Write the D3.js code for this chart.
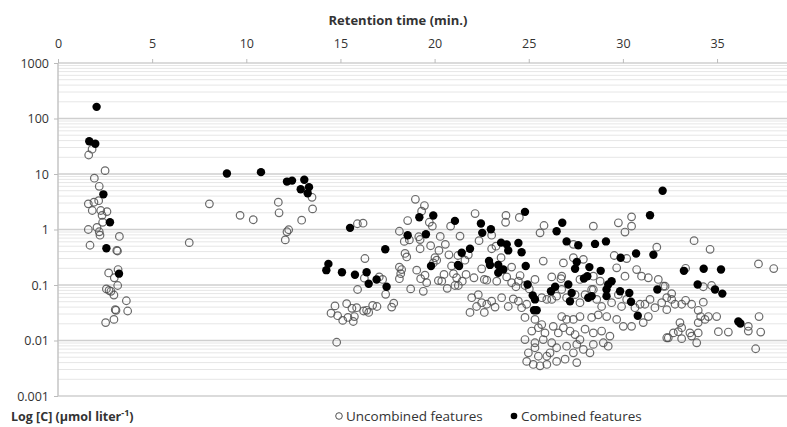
<!DOCTYPE html>
<html><head><meta charset="utf-8">
<script src="https://cdn.jsdelivr.net/npm/d3@7/dist/d3.min.js"></script>
<style>body{margin:0;background:#fff}svg{display:block}text{font-family:"Open Sans",Calibri,sans-serif;fill:#333}</style>
</head><body><svg id="c" width="787" height="427"></svg>
<script>
const xTicks = [0,5,10,15,20,25,30,35];
const yTicks = [0.001,0.01,0.1,1,10,100,1000];
const yTickLabels = ["0.001","0.01","0.1","1","10","100","1000"];
const seriesNames = ["Uncombined features","Combined features"];

const combined = [
[2.05,162],[1.66,39],[1.98,35],[2.41,4.3],[2.76,1.35],[2.57,0.46],[3.24,0.16],
[8.97,10.2],[10.78,10.8],[12.16,7.3],[12.43,7.6],[13.08,7.9],[12.89,5.3],[13.33,5.8],[13.26,4.5],
[15.51,1.07],[14.36,0.24],[14.25,0.185],[15.08,0.17],[15.77,0.153],[16.39,0.17],[16.5,0.105],[16.92,0.126],[17.45,0.093],[17.38,0.44],
[19.19,1.66],[19.93,1.79],[21.08,1.43],[18.57,0.79],[19.54,0.82],[19.81,0.22],[21.24,0.23],
[24.8,2.08],[22.46,1.28],[22.53,0.87],[22.99,1.01],[26.78,1.32],[26.48,0.93],
[23.53,0.58],[23.83,0.54],[24.45,0.57],[23.91,0.42],[24.62,0.39],[21.88,0.45],[21.44,0.38],[21.3,0.22],
[22.89,0.27],[22.94,0.23],[23.38,0.23],[23.65,0.19],[23.38,0.166],[24.84,0.22],
[24.94,0.102],[25.21,0.065],[25.33,0.055],[25.42,0.035],[25.28,0.035],[26.18,0.077],[26.4,0.093],
[32.11,5.0],[31.44,1.81],[27.01,0.61],[27.63,0.52],[28.52,0.55],[29.1,0.61],[30.7,0.37],[31.62,0.35],[29.88,0.31],
[27.55,0.26],[27.46,0.196],[28.22,0.21],[28.11,0.144],[27.93,0.131],[28.82,0.18],
[29.4,0.117],[29.22,0.102],[29.13,0.083],[29.13,0.063],[27.1,0.102],[27.28,0.072],[27.19,0.051],[28.34,0.063],[28.16,0.059],[29.85,0.077],[30.34,0.072],[30.43,0.05],[31.83,0.083],[30.79,0.028],
[33.24,0.18],[34.29,0.196],[35.21,0.19],[33.97,0.102],[34.89,0.083],[35.28,0.07],[36.13,0.022],[36.24,0.0202]
];

const uncombined = [
[1.81,28],[1.63,22],[2.5,11.5],[1.93,8.4],[2.19,6.0],[1.61,2.9],[1.91,3.1],[2.16,3.3],[1.82,2.2],[2.27,2.2],[2.6,2.1],[2.34,1.8],[2.37,1.35],[1.61,1.0],[2.07,1.09],[2.19,0.91],[2.23,0.79],[3.26,0.75],[1.7,0.52],[3.12,0.42],[3.16,0.41],[3.19,0.19],[2.69,0.165],[2.99,0.135],[3.17,0.098],[2.57,0.085],[2.71,0.08],[2.81,0.077],[2.97,0.066],[3.63,0.052],[3.04,0.036],[3.08,0.035],[3.7,0.034],[2.97,0.024],[2.53,0.021],
[13.49,3.8],[13.52,2.35],[11.7,3.1],[11.74,2.0],[8.04,2.9],[9.67,1.8],[10.37,1.5],[12.94,1.47],[12.25,0.99],[12.16,0.91],[12.07,0.65],[6.97,0.58],
[15.9,1.27],[16.2,1.3],[16.3,0.30],[16.27,0.133],[17.06,0.14],[17.24,0.126],[15.91,0.083],[17.4,0.068],[17.83,0.047],[17.72,0.04],[14.71,0.042],[15.33,0.046],[15.61,0.038],[15.86,0.039],[14.5,0.031],[14.85,0.028],[15.12,0.023],[15.4,0.026],[15.68,0.022],[15.74,0.027],[16.23,0.034],[16.39,0.035],[16.71,0.043],[16.94,0.041],[16.5,0.032],[14.8,0.0093],
[18.98,3.5],[19.46,2.7],[19.31,2.14],[18.57,1.45],[19.72,1.35],[19.88,1.15],[20.85,1.15],[18.13,0.93],[18.39,0.61],[18.66,0.65],[19.16,0.74],[19.23,0.66],[20.3,0.75],[20.57,0.54],[19.79,0.51],[19.23,0.45],[20.23,0.42],[18.43,0.37],[18.52,0.32],[20.76,0.35],[21.24,0.34],[20.02,0.31],[20.11,0.28],[19.93,0.25],[18.13,0.21],[18.25,0.19],[18.2,0.16],[18.13,0.13],[19.05,0.185],[19.49,0.15],[19.26,0.13],[19.58,0.11],[19.4,0.077],[18.73,0.085],[20.5,0.155],[21.0,0.16],[20.2,0.12],[20.38,0.117],[20.67,0.087],[21.08,0.098],[20.9,0.22],
[22.15,1.94],[23.79,1.79],[23.77,1.35],[24.5,1.65],[21.35,0.76],[22.36,0.63],[23.03,0.79],[25.81,1.18],[25.6,0.87],[23.03,0.45],[23.26,0.50],[21.79,0.35],[21.61,0.28],[25.77,0.27],[22.5,0.196],[23.53,0.31],[24.09,0.21],[24.54,0.148],
[21.67,0.155],[22.09,0.135],[22.64,0.126],[22.77,0.122],[23.3,0.117],[23.83,0.14],[24.09,0.11],[24.45,0.117],[24.32,0.093],[24.8,0.098],[25.03,0.085],[21.26,0.098],[21.47,0.117],[21.17,0.135],[25.33,0.126],[26.22,0.14],[26.71,0.13],
[21.97,0.059],[22.32,0.067],[22.23,0.041],[22.5,0.048],[22.77,0.045],[23.03,0.051],[23.21,0.040],[23.56,0.059],[23.91,0.041],[24.18,0.056],[24.45,0.051],[24.62,0.039],[24.89,0.045],[25.69,0.059],[25.96,0.055],[26.22,0.055],[26.48,0.063],[21.88,0.032],[22.64,0.032],
[24.8,0.026],[25.33,0.024],[25.69,0.0194],[25.16,0.0148],[25.51,0.017],[25.86,0.0137],[26.3,0.018],[26.57,0.0137],[24.8,0.0104],[25.33,0.0091],[25.77,0.0104],[26.22,0.0091],[26.48,0.0074],[24.98,0.006],[25.33,0.0074],[25.51,0.0052],[25.96,0.0052],[26.13,0.006],[26.48,0.0042],[24.89,0.0042],[25.24,0.0037],[25.6,0.0035],[25.96,0.0037],
[30.46,1.69],[29.76,1.32],[30.46,1.15],[30.11,0.9],[28.43,1.15],[27.37,0.54],[31.8,0.48],[29.54,0.34],[30.2,0.30],[30.73,0.19],[30.99,0.144],
[27.37,0.31],[27.9,0.29],[26.84,0.25],[26.75,0.144],[27.72,0.126],[28.43,0.144],[28.79,0.117],[28.34,0.083],[29.67,0.204],[30.11,0.144],[31.35,0.135],[31.88,0.126],[32.15,0.095],
[26.75,0.083],[27.01,0.059],[27.46,0.067],[27.72,0.048],[27.99,0.067],[28.43,0.083],[28.61,0.055],[28.87,0.041],[29.4,0.048],[29.76,0.067],[29.93,0.041],[30.2,0.055],[30.64,0.039],[30.91,0.045],[31.17,0.045],[31.44,0.055],[31.7,0.039],[32.06,0.048],[32.33,0.059],[31.35,0.027],[31.08,0.021],[30.46,0.018],[30.02,0.018],[29.67,0.024],[29.14,0.027],[28.69,0.029],[28.34,0.026],[27.72,0.027],[27.37,0.024],[27.01,0.024],[26.75,0.027],[26.84,0.017],[27.19,0.0148],[27.46,0.0128],[27.72,0.0104],[27.99,0.016],[28.43,0.0137],[28.87,0.0148],[29.31,0.012],[28.96,0.0091],[29.22,0.0079],[28.43,0.0085],[28.25,0.006],[27.9,0.0069],[27.55,0.0085],[27.37,0.006],[27.55,0.004],[27.01,0.0079],[26.93,0.0046],[32.33,0.0112],
[33.78,0.63],[34.63,0.44],[33.33,0.2],[37.2,0.24],[38.01,0.198],[34.27,0.093],[34.71,0.098],
[32.24,0.095],[32.59,0.07],[32.59,0.055],[32.77,0.045],[32.33,0.036],[33.12,0.045],[33.33,0.053],[33.65,0.045],[34.27,0.049],[34.0,0.035],[34.13,0.027],[34.54,0.027],[34.98,0.027],[34.0,0.021],[34.36,0.024],[33.03,0.021],[33.12,0.017],[32.94,0.0144],[32.68,0.0137],[32.41,0.0112],[33.56,0.0137],[33.65,0.012],[34.0,0.0137],[33.92,0.0091],[33.12,0.0108],[35.07,0.0144],[35.6,0.0142],[36.66,0.018],[36.66,0.0148],[37.23,0.027],[37.32,0.0142],[37.05,0.0071]
];

const svg = d3.select("#c");
const x = d3.scaleLinear().domain([0,40]).range([58, 58 + 40*18.83]);
const y = d3.scaleLog().domain([0.001,1000]).range([396,63]);

// minor gridlines
svg.append("g").selectAll("line").data(y.ticks().filter(v => !yTicks.some(t => Math.abs(t - v) / t < 1e-6)))
  .join("line").attr("x1", 58).attr("x2", 787).attr("y1", d => y(d)).attr("y2", d => y(d))
  .attr("stroke", "#e6e6e6").attr("stroke-width", 1);
// major gridlines
svg.append("g").selectAll("line").data(yTicks)
  .join("line").attr("x1", 58).attr("x2", 787).attr("y1", d => y(d)).attr("y2", d => y(d))
  .attr("stroke", "#cfcfcf").attr("stroke-width", 1.5);

// left axis line
svg.append("line").attr("x1", 58).attr("x2", 58).attr("y1", 63).attr("y2", 396).attr("stroke", "#c4c4c4").attr("stroke-width", 1.5);

// top axis
const xAxis = d3.axisTop(x).tickValues(xTicks).tickSize(4).tickPadding(11).tickFormat(d3.format("d"));
const gx = svg.append("g").attr("transform", "translate(0,63)").call(xAxis);
gx.select(".domain").remove();
gx.selectAll(".tick line").attr("stroke", "#bbb");
gx.selectAll(".tick text").attr("font-size", 12.5).style("fill", "#333").attr("font-family", "'Open Sans',sans-serif");

// left axis labels
const yAxis = d3.axisLeft(y).tickValues(yTicks).tickSize(4).tickPadding(5).tickFormat((d,i) => yTickLabels[i]);
const gy = svg.append("g").attr("transform", "translate(58,0)").call(yAxis);
gy.select(".domain").remove();
gy.selectAll(".tick line").attr("stroke", "#bbb");
gy.selectAll(".tick text").attr("font-size", 12.5).style("fill", "#333").attr("font-family", "'Open Sans',sans-serif");

// points
svg.append("g").selectAll("circle").data(uncombined).join("circle")
  .attr("cx", d => x(d[0])).attr("cy", d => y(d[1])).attr("r", 3.8)
  .attr("fill", "none").attr("stroke", "#505050").attr("stroke-opacity", 0.85).attr("stroke-width", 1.2);
svg.append("g").selectAll("circle").data(combined).join("circle")
  .attr("cx", d => x(d[0])).attr("cy", d => y(d[1])).attr("r", 4.2)
  .attr("fill", "#000");

// titles
svg.append("text").attr("x", 398).attr("y", 25).attr("text-anchor", "middle")
  .attr("font-size", 13).attr("font-weight", "bold").text("Retention time (min.)");
const yt = svg.append("text").attr("x", 11).attr("y", 421).attr("font-size", 12.5).attr("font-weight", "bold");
yt.append("tspan").text("Log [C] (µmol liter");
yt.append("tspan").attr("dy", -5).attr("font-size", 9).text("-1");
yt.append("tspan").attr("dy", 5).text(")");

// legend
const lg = svg.append("g");
lg.append("circle").attr("cx", 339).attr("cy", 416).attr("r", 3.3).attr("fill", "none").attr("stroke", "#505050").attr("stroke-width", 1);
lg.append("text").attr("x", 346).attr("y", 421).attr("font-size", 13.5).text(seriesNames[0]);
lg.append("circle").attr("cx", 514).attr("cy", 416).attr("r", 3.3).attr("fill", "#000");
lg.append("text").attr("x", 521).attr("y", 421).attr("font-size", 13.5).text(seriesNames[1]);
</script></body></html>
